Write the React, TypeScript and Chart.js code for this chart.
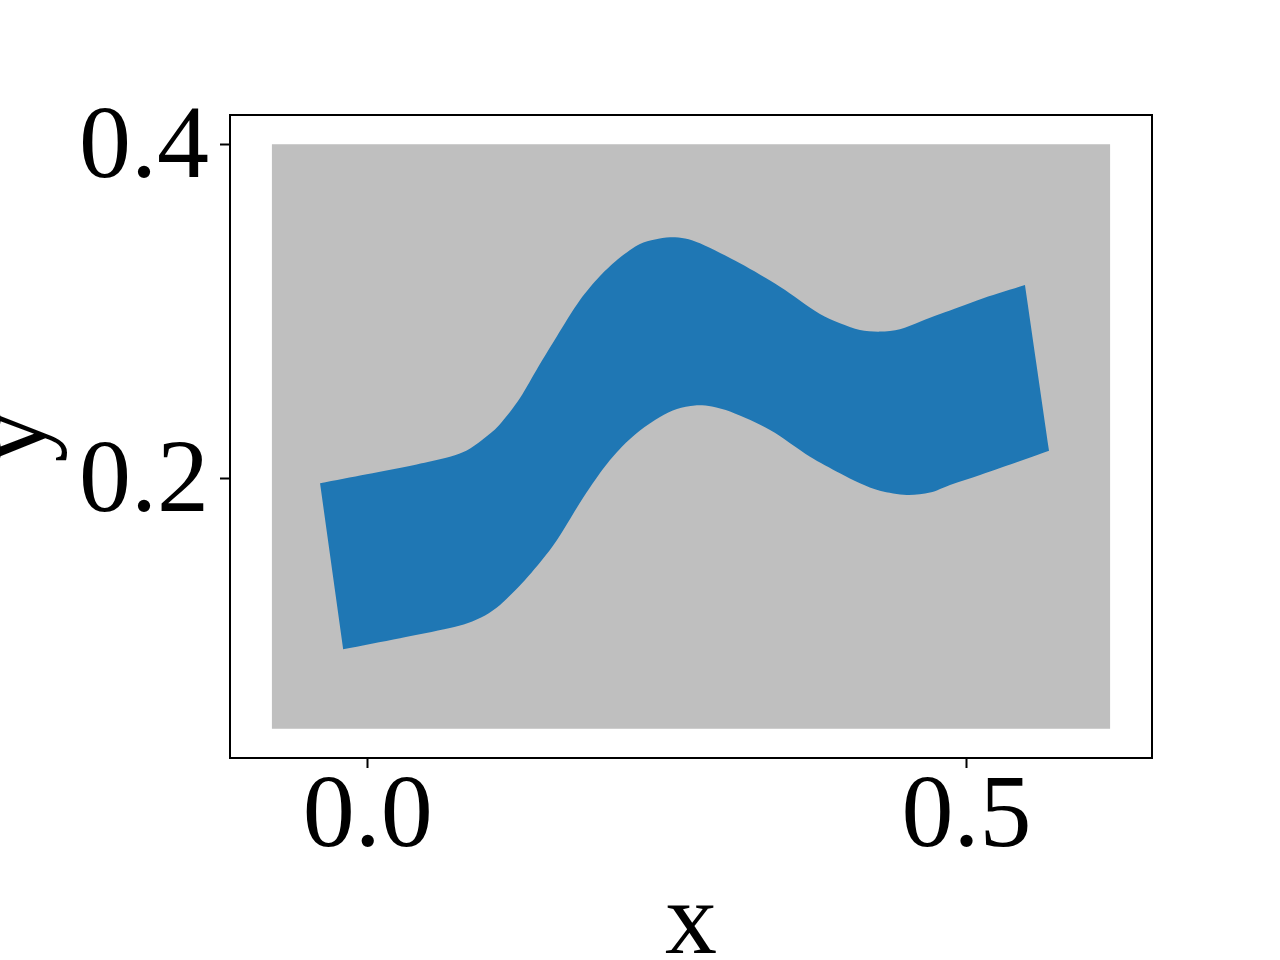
import React, { useEffect, useRef } from 'react';
import { Chart, registerables } from 'chart.js';

Chart.register(...registerables);

// Axis limits and ticks
const xLimits = [-0.115, 0.655];
const yLimits = [0.0325, 0.4175];
const xTickValues = [0.0, 0.5];
const yTickValues = [0.2, 0.4];
const xAxisLabel = 'x';
const yAxisLabel = 'y';

// Grey background rectangle (corners)
const backgroundX = [-0.08, -0.08, 0.62, 0.62];
const backgroundY = [0.05, 0.4, 0.4, 0.05];

// Blue band: upper edge (left to right)
const bandUpperX = [-0.0398, -0.0008, 0.0409, 0.0687, 0.0827, 0.0955, 0.1091, 0.1272, 0.1425, 0.1578, 0.1773, 0.194, 0.2107, 0.2274, 0.2399, 0.2525, 0.265, 0.2775, 0.3109, 0.3443, 0.3777, 0.3944, 0.4111, 0.4278, 0.4445, 0.4612, 0.478, 0.4947, 0.5141, 0.5489];
const bandUpperY = [0.197, 0.2024, 0.2083, 0.2129, 0.2166, 0.2229, 0.2313, 0.2481, 0.2668, 0.2848, 0.3067, 0.3211, 0.3322, 0.3403, 0.343, 0.3443, 0.3436, 0.3407, 0.3287, 0.3147, 0.2983, 0.2928, 0.2888, 0.2878, 0.2892, 0.2937, 0.2983, 0.3027, 0.3078, 0.3157];

// Blue band: lower edge (right to left)
const bandLowerX = [0.569, 0.5281, 0.5114, 0.4863, 0.4696, 0.4501, 0.4278, 0.4111, 0.3944, 0.3694, 0.336, 0.3026, 0.2875, 0.2733, 0.2583, 0.2441, 0.2274, 0.2121, 0.1968, 0.1787, 0.1634, 0.1522, 0.1314, 0.1105, 0.098, 0.0838, 0.0687, 0.027, -0.0205];
const bandLowerY = [0.2165, 0.2061, 0.202, 0.196, 0.1914, 0.19, 0.1925, 0.197, 0.203, 0.2129, 0.2289, 0.2399, 0.243, 0.2436, 0.2415, 0.2367, 0.2286, 0.2187, 0.2058, 0.187, 0.169, 0.157, 0.1391, 0.1241, 0.1178, 0.1133, 0.1103, 0.1042, 0.0976];

const FONT_FAMILY = "'Liberation Serif', 'Times New Roman', Times, serif";
const FONT_SIZE = 104;

const framePlugin = {
  id: 'axesFrame',
  afterDatasetsDraw(chart: any) {
    const { ctx, chartArea: a } = chart;
    ctx.save();
    ctx.strokeStyle = '#000000';
    ctx.lineWidth = 2;
    ctx.strokeRect(a.left, a.top, a.right - a.left, a.bottom - a.top);
    ctx.restore();
  },
};

export default function App() {
  const canvasRef = useRef<HTMLCanvasElement>(null);

  useEffect(() => {
    const upper = bandUpperX.map((x, i) => ({ x, y: bandUpperY[i] }));
    const lower = bandLowerX.map((x, i) => ({ x, y: bandLowerY[i] }));
    // corner points repeated so the smoothed outline keeps sharp corners
    const bandPoints = [
      upper[0],
      ...upper,
      upper[upper.length - 1],
      lower[0],
      ...lower,
      lower[lower.length - 1],
    ];
    const bgPoints = backgroundX.map((x, i) => ({ x, y: backgroundY[i] }));

    const chart = new Chart(canvasRef.current as HTMLCanvasElement, {
      type: 'line',
      data: {
        datasets: [
          {
            data: bandPoints,
            fill: 'shape',
            backgroundColor: '#1f77b4',
            borderColor: '#1f77b4',
            borderWidth: 0,
            tension: 0.3,
            pointRadius: 0,
            order: 1,
          },
          {
            data: bgPoints,
            fill: 'shape',
            backgroundColor: '#bfbfbf',
            borderColor: '#bfbfbf',
            borderWidth: 0,
            tension: 0,
            pointRadius: 0,
            order: 2,
          },
        ],
      } as any,
      options: {
        responsive: false,
        animation: false,
        devicePixelRatio: 1,
        events: [],
        layout: { padding: { top: 115, right: 128, left: 0, bottom: 0 } },
        plugins: {
          legend: { display: false },
          tooltip: { enabled: false },
        },
        elements: { point: { radius: 0, hoverRadius: 0 } },
        scales: {
          x: {
            type: 'linear',
            min: xLimits[0],
            max: xLimits[1],
            afterFit: (s: any) => {
              s.height = 202;
            },
            afterBuildTicks: (s: any) => {
              s.ticks = xTickValues.map((v) => ({ value: v }));
            },
            ticks: {
              color: '#000000',
              padding: 39,
              maxRotation: 0,
              autoSkip: false,
              font: { family: FONT_FAMILY, size: FONT_SIZE, lineHeight: '24px' },
              callback: (v: any) => Number(v).toFixed(1),
            },
            grid: {
              display: true,
              drawOnChartArea: false,
              drawTicks: true,
              tickLength: 10,
              tickWidth: 2,
              tickColor: '#000000',
            },
            border: { display: false },
            title: {
              display: true,
              text: xAxisLabel,
              color: '#000000',
              padding: { top: 0, bottom: 22 },
              font: { family: FONT_FAMILY, size: FONT_SIZE, lineHeight: '24px' },
            },
          },
          y: {
            type: 'linear',
            min: yLimits[0],
            max: yLimits[1],
            afterFit: (s: any) => {
              s.width = 230;
            },
            afterBuildTicks: (s: any) => {
              s.ticks = yTickValues.map((v) => ({ value: v }));
            },
            ticks: {
              color: '#000000',
              padding: 11,
              labelOffset: 5,
              autoSkip: false,
              font: { family: FONT_FAMILY, size: FONT_SIZE },
              callback: (v: any) => Number(v).toFixed(1),
            },
            grid: {
              display: true,
              drawOnChartArea: false,
              drawTicks: true,
              tickLength: 10,
              tickWidth: 2,
              tickColor: '#000000',
            },
            border: { display: false },
            title: {
              display: true,
              text: yAxisLabel,
              color: '#000000',
              padding: { top: 7, bottom: 0 },
              font: { family: FONT_FAMILY, size: FONT_SIZE, lineHeight: '22px' },
            },
          },
        },
      } as any,
      plugins: [framePlugin],
    });

    return () => {
      chart.destroy();
    };
  }, []);

  return (
    <div style={{ position: 'fixed', left: 0, top: 0, width: 1280, height: 960, background: '#ffffff' }}>
      <canvas ref={canvasRef} width={1280} height={960} style={{ display: 'block', width: 1280, height: 960 }} />
    </div>
  );
}
